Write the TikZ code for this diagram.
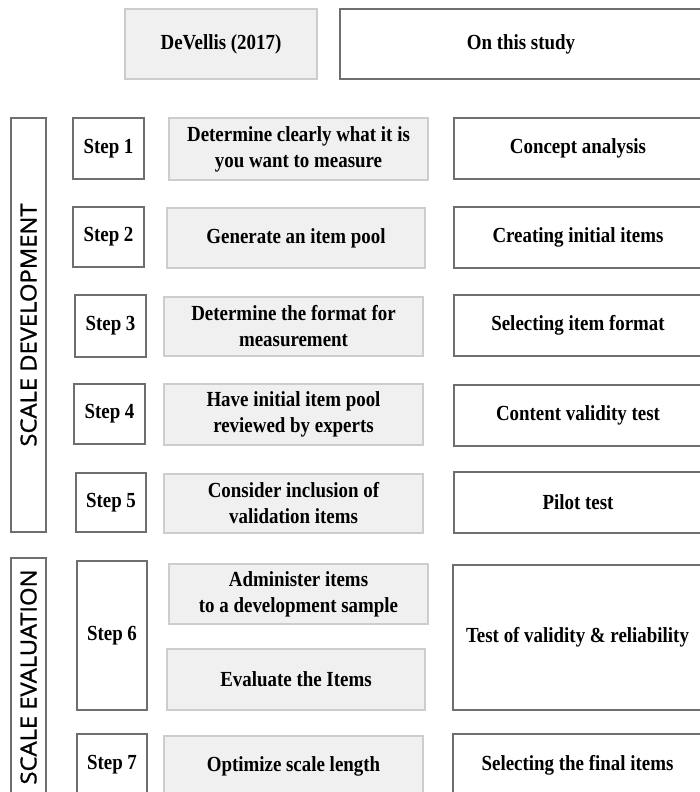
\documentclass[tikz,border=0pt]{standalone}
\usepackage{fontspec}
\setmainfont{Liberation Serif}[FakeStretch=0.88]
\newfontfamily\vsans{Open Sans}[FakeStretch=1.08,FakeBold=1.2]
\definecolor{gfill}{HTML}{F0F0F0}
\definecolor{gline}{HTML}{CDCDCD}
\definecolor{wline}{HTML}{6E6E6E}
\tikzset{
  basebox/.style={anchor=center, align=center, inner sep=0pt, line width=1.3pt,
    font=\bfseries\fontsize{21.5}{26}\selectfont, text=black},
  graybox/.style={basebox, draw=gline, fill=gfill},
  whitebox/.style={basebox, draw=wline, fill=white},
  sidebox/.style={anchor=center, inner sep=0pt, line width=1.3pt, draw=wline, fill=white},
  sidetext/.style={rotate=90, font=\vsans\fontsize{22}{24}\selectfont, text=black}
}
\newcommand\mybox[7]{%
  \node[#2, minimum width={#5pt-#3pt}, minimum height={#6pt-#4pt}] (#1) at ({(#3+#5)/2},{(#4+#6)/2}) {#7};}
\begin{document}
\begin{tikzpicture}[x=1pt,y=-1pt]
\useasboundingbox (0,0) rectangle (700,792);
\clip (0,0) rectangle (700,792);
\fill[white] (0,0) rectangle (700,792);
% header
\mybox{dev}{graybox}{125}{9}{317}{79}{DeVellis (2017)}
\mybox{study}{whitebox}{340}{9}{702}{79}{On this study}
% side labels
\mybox{sd}{sidebox}{11}{118}{46}{532}{}
\node[sidetext] (sdt) at (sd.center) {SCALE DEVELOPMENT};
\mybox{se}{sidebox}{11}{558}{46}{796}{}
\node[sidetext] (set) at (se.center) {SCALE EVALUATION};
% steps
\mybox{s1}{whitebox}{73}{118}{144}{179}{Step 1}
\mybox{s2}{whitebox}{73}{207}{144}{267}{Step 2}
\mybox{s3}{whitebox}{75}{295}{146}{357}{Step 3}
\mybox{s4}{whitebox}{74}{384}{145}{444}{Step 4}
\mybox{s5}{whitebox}{76}{473}{146}{532}{Step 5}
\mybox{s6}{whitebox}{77}{561}{147}{710}{Step 6}
\mybox{s7}{whitebox}{77}{734}{147}{796}{Step 7}
% DeVellis column
\mybox{g1}{graybox}{169}{118}{428}{180}{Determine clearly what it is\\you want to measure}
\mybox{g2}{graybox}{167}{208}{425}{268}{Generate an item pool}
\mybox{g3}{graybox}{164}{297}{423}{356}{Determine the format for\\measurement}
\mybox{g4}{graybox}{164}{384}{423}{445}{Have initial item pool\\reviewed by experts}
\mybox{g5}{graybox}{164}{474}{423}{533}{Consider inclusion of\\validation items}
\mybox{g6a}{graybox}{169}{564}{428}{624}{Administer items\\to a development sample}
\mybox{g6b}{graybox}{167}{649}{425}{710}{Evaluate the Items}
\mybox{g7}{graybox}{164}{736}{423}{796}{Optimize scale length}
% this study column
\mybox{r1}{whitebox}{454}{118}{702}{179}{Concept analysis}
\mybox{r2}{whitebox}{454}{207}{702}{268}{Creating initial items}
\mybox{r3}{whitebox}{454}{295}{702}{356}{Selecting item format}
\mybox{r4}{whitebox}{454}{385}{702}{446}{Content validity test}
\mybox{r5}{whitebox}{454}{472}{702}{533}{Pilot test}
\mybox{r6}{whitebox}{453}{565}{702}{710}{Test of validity \& reliability}
\mybox{r7}{whitebox}{453}{734}{702}{796}{Selecting the final items}
\end{tikzpicture}
\end{document}
